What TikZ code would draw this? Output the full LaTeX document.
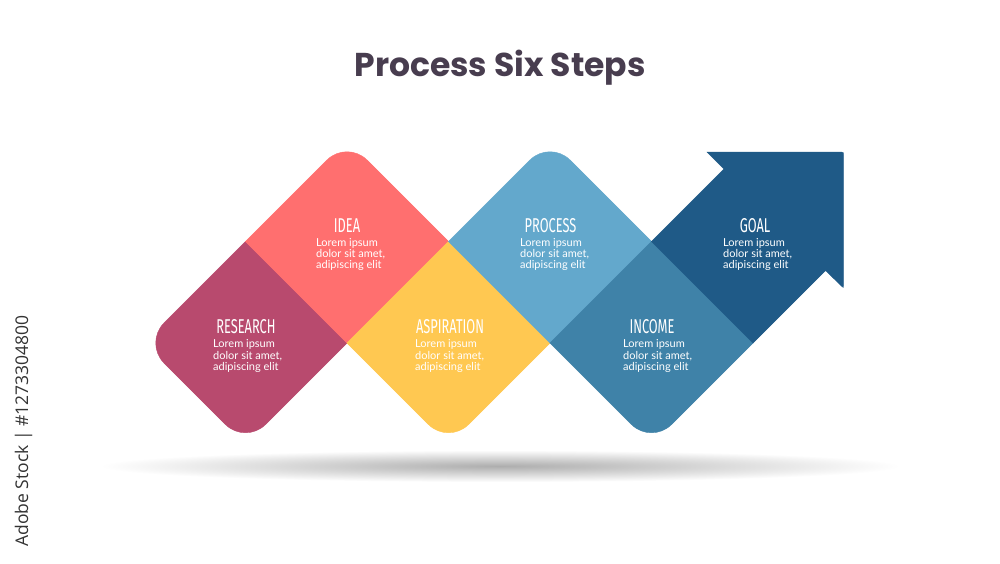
\documentclass[tikz,border=0pt]{standalone}
\usepackage{fontspec}
\setmainfont{Lato}
\newfontfamily\titlefont{Poppins}
\newfontfamily\headfont[FakeStretch=0.64]{Fira Sans}
\newfontfamily\markfont{Open Sans}

\definecolor{researchcol}{HTML}{B84A6E}
\definecolor{ideacol}{HTML}{FF6F6F}
\definecolor{aspirationcol}{HTML}{FFC851}
\definecolor{processcol}{HTML}{63A8CC}
\definecolor{incomecol}{HTML}{3F82A8}
\definecolor{goalcol}{HTML}{1F5A87}
\definecolor{titlecol}{HTML}{483D4F}

\newcommand{\steplorem}{Lorem ipsum\\dolor sit amet,\\adipiscing elit}

\tikzset{
  stepshape/.style={fill=#1, draw=#1, line width=0.4pt},
  steptitle/.style={anchor=base, inner sep=0pt, text=white,
    font=\headfont\fontsize{20}{20}\selectfont},
  steptext/.style={anchor=north west, inner sep=0pt, text=white, align=left,
    font=\fontsize{11}{11.3}\selectfont}
}

\begin{document}
\begin{tikzpicture}[x=1pt, y=-1pt]
    \useasboundingbox (0,0) rectangle (1000,563);
    \fill[white] (0,0) rectangle (1000,563);

    % shadow under the steps
    \shade[inner color=black!32, outer color=white] (500,466) ellipse (400pt and 16pt);

    \node(title) [anchor=base, text=titlecol, font=\titlefont\bfseries\fontsize{33}{33}\selectfont] at (500,76) {Process Six Steps};

    % the six steps
    \path[stepshape=researchcol] (245.5,241.5) -- (164,323) .. controls (153,334) and (153,352) .. (164,363)
        -- (225.5,424.5) .. controls (236.5,435.5) and (254.5,435.5) .. (265.5,424.5) -- (347,343) -- cycle;
    \path[stepshape=ideacol] (245.5,241.5) -- (327,160) .. controls (338,149) and (356,149) .. (367,160)
        -- (448.5,241.5) -- (347,343) -- cycle;
    \path[stepshape=aspirationcol] (347,343) -- (448.5,241.5) -- (550,343)
        -- (468.5,424.5) .. controls (457.5,435.5) and (439.5,435.5) .. (428.5,424.5) -- cycle;
    \path[stepshape=processcol] (448.5,241.5) -- (530,160) .. controls (541,149) and (559,149) .. (570,160)
        -- (651.5,241.5) -- (550,343) -- cycle;
    \path[stepshape=incomecol] (550,343) -- (651.5,241.5) -- (753,343)
        -- (671.5,424.5) .. controls (660.5,435.5) and (642.5,435.5) .. (631.5,424.5) -- cycle;
    \path[stepshape=goalcol] (651.5,241.5) -- (724,169) -- (707,152) -- (840.5,152) .. controls (843.5,152) .. (843.5,155)
        -- (843.5,285) .. controls (843.5,288) .. (841.5,286) -- (825.5,270.5) -- (753,343) -- cycle;

    % labels
    \node(research)   [steptitle] at (246,333)     {RESEARCH};
    \node(researchtxt)[steptext]  at (213,339.5)   {\steplorem};
    \node(idea)       [steptitle] at (347,232)     {IDEA};
    \node(ideatxt)    [steptext]  at (316,238)     {\steplorem};
    \node(aspiration) [steptitle] at (450,333)     {ASPIRATION};
    \node(aspirationtxt)[steptext] at (415,339.5)  {\steplorem};
    \node(process)    [steptitle] at (550.5,232)   {PROCESS};
    \node(processtxt) [steptext]  at (520,238)     {\steplorem};
    \node(income)     [steptitle] at (652,333)     {INCOME};
    \node(incometxt)  [steptext]  at (623,339.5)   {\steplorem};
    \node(goal)       [steptitle] at (755,232)     {GOAL};
    \node(goaltxt)    [steptext]  at (723,238)     {\steplorem};

    \node(stockmark) [anchor=base, rotate=90, text=black!80, font=\markfont\fontsize{17.5}{17.5}\selectfont] at (28,431) {Adobe Stock | \#1273304800};
\end{tikzpicture}
\end{document}
